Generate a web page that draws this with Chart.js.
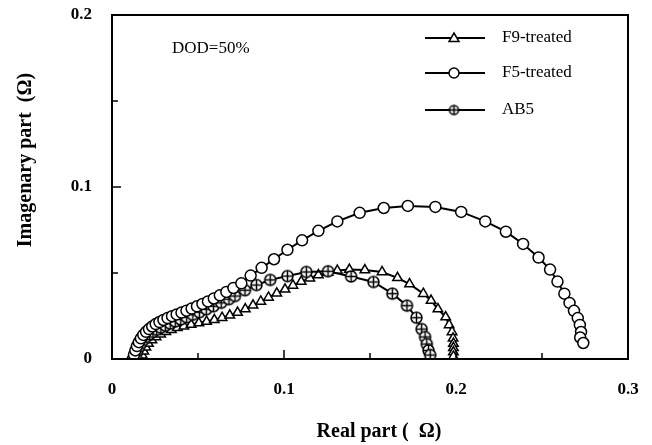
<!DOCTYPE html>
<html>
<head>
<meta charset="utf-8">
<script src="https://cdn.jsdelivr.net/npm/chart.js@4/dist/chart.umd.min.js"></script>
<style>
  html, body { margin: 0; padding: 0; background: #fff; }
  #wrap { width: 652px; height: 445px; }
</style>
</head>
<body>
<div id="wrap"><canvas id="nyquist"></canvas></div>
<script>
// Nyquist plot readings, DOD=50%
const seriesNames = ['F9-treated', 'F5-treated', 'AB5'];

const f9Real = [0.0170,0.0176,0.0185,0.0197,0.0212,0.0232,0.0256,0.0283,0.0313,0.0345,0.0380,0.0418,0.0460,0.0505,0.0550,0.0595,0.0640,0.0685,0.0730,0.0775,0.0820,0.0865,0.0910,0.0958,0.1006,0.1052,0.1100,0.1150,0.1200,0.1256,0.1310,0.1380,0.1470,0.1570,0.1660,0.1730,0.1810,0.1855,0.1895,0.1940,0.1960,0.1977,0.1983,0.1985,0.1985,0.1985,0.1985];
const f9Imag = [0.0000,0.0022,0.0045,0.0068,0.0090,0.0110,0.0128,0.0144,0.0158,0.0170,0.0181,0.0191,0.0200,0.0209,0.0218,0.0228,0.0240,0.0254,0.0270,0.0290,0.0312,0.0335,0.0358,0.0382,0.0405,0.0428,0.0450,0.0470,0.0488,0.0503,0.0514,0.0520,0.0517,0.0506,0.0472,0.0436,0.0380,0.0340,0.0290,0.0244,0.0198,0.0157,0.0120,0.0090,0.0065,0.0040,0.0015];

const f5Real = [0.0122,0.0128,0.0136,0.0145,0.0156,0.0168,0.0182,0.0198,0.0215,0.0234,0.0254,0.0276,0.0299,0.0323,0.0349,0.0376,0.0404,0.0433,0.0463,0.0494,0.0526,0.0558,0.0592,0.0627,0.0665,0.0706,0.0752,0.0806,0.0870,0.0942,0.1020,0.1105,0.1200,0.1310,0.1440,0.1580,0.1720,0.1880,0.2030,0.2170,0.2290,0.2390,0.2480,0.2547,0.2590,0.2630,0.2660,0.2686,0.2708,0.2720,0.2727,0.2722,0.2740];
const f5Imag = [0.0000,0.0025,0.0050,0.0075,0.0098,0.0120,0.0140,0.0158,0.0174,0.0189,0.0203,0.0215,0.0227,0.0238,0.0249,0.0259,0.0270,0.0281,0.0293,0.0306,0.0320,0.0335,0.0352,0.0370,0.0390,0.0413,0.0440,0.0485,0.0530,0.0580,0.0635,0.0690,0.0745,0.0800,0.0850,0.0878,0.0890,0.0884,0.0855,0.0800,0.0740,0.0669,0.0590,0.0520,0.0450,0.0380,0.0326,0.0280,0.0238,0.0198,0.0157,0.0125,0.0093];

const ab5Real = [0.0135,0.0140,0.0148,0.0158,0.0170,0.0184,0.0200,0.0218,0.0238,0.0260,0.0284,0.0310,0.0338,0.0368,0.0400,0.0434,0.0470,0.0508,0.0548,0.0590,0.0635,0.0680,0.0715,0.0773,0.0840,0.0920,0.1020,0.1130,0.1256,0.1390,0.1520,0.1630,0.1715,0.1770,0.1800,0.1820,0.1830,0.1840,0.1850];
const ab5Imag = [0.0000,0.0024,0.0048,0.0071,0.0092,0.0111,0.0128,0.0143,0.0157,0.0170,0.0182,0.0194,0.0206,0.0218,0.0230,0.0243,0.0257,0.0272,0.0289,0.0307,0.0327,0.0348,0.0366,0.0400,0.0430,0.0460,0.0482,0.0506,0.0510,0.0480,0.0448,0.0380,0.0310,0.0240,0.0174,0.0128,0.0087,0.0050,0.0023];

const xTicks = [0, 0.1, 0.2, 0.3];
const yTicks = [0, 0.1, 0.2];

const toPoints = (xs, ys) => xs.map((x, i) => ({ x: x, y: ys[i] }));

// circle with a plus inside, for AB5
function crossedCircle(r) {
    const size = 2 * Math.ceil(r) + 5;
    const c = document.createElement('canvas');
    c.width = size; c.height = size;
    const g = c.getContext('2d');
    const m = size / 2;
    g.fillStyle = '#fff';
    g.strokeStyle = '#000';
    g.lineWidth = 1.5;
    g.beginPath(); g.arc(m, m, r, 0, Math.PI * 2); g.fill(); g.stroke();
    g.beginPath();
    g.moveTo(m - r, m); g.lineTo(m + r, m);
    g.moveTo(m, m - r); g.lineTo(m, m + r);
    g.stroke();
    return c;
}

const abMarker = crossedCircle(5.5);
const abMarkerSmall = crossedCircle(4.5);

const serif = "'Liberation Serif', 'Times New Roman', serif";

// box, inward ticks, titles, legend, note
const frame = {
    id: 'frame',
    afterDatasetsDraw(chart) {
        const { ctx, chartArea: a, scales } = chart;
        const x = scales.x, y = scales.y;
        ctx.save();
        ctx.strokeStyle = '#000';
        ctx.lineWidth = 1.5;
        for (let i = 1; i < 6; i++) {
            const v = i * 0.05;
            const len = i % 2 === 0 ? 9 : 6;
            const px = x.getPixelForValue(v);
            ctx.beginPath(); ctx.moveTo(px, a.bottom); ctx.lineTo(px, a.bottom - len); ctx.stroke();
        }
        for (let i = 1; i < 4; i++) {
            const v = i * 0.05;
            const len = i % 2 === 0 ? 9 : 6;
            const py = y.getPixelForValue(v);
            ctx.beginPath(); ctx.moveTo(a.left, py); ctx.lineTo(a.left + len, py); ctx.stroke();
        }
        ctx.lineWidth = 2;
        ctx.strokeRect(a.left, a.top, a.right - a.left, a.bottom - a.top);

        ctx.fillStyle = '#000';
        ctx.font = '17px ' + serif;
        ctx.textBaseline = 'alphabetic';
        ctx.textAlign = 'left';
        ctx.fillText('DOD=50%', a.left + 60, a.top + 38);

        // legend
        const rows = [a.top + 23, a.top + 58, a.top + 95];
        const lx0 = 425, lx1 = 485, lm = 454;
        chart.data.datasets.forEach((ds, i) => {
            const ly = rows[i];
            ctx.strokeStyle = '#000';
            ctx.lineWidth = 2;
            ctx.beginPath(); ctx.moveTo(lx0, ly); ctx.lineTo(lx1, ly); ctx.stroke();
            ctx.lineWidth = 1.5;
            ctx.fillStyle = '#fff';
            if (ds.pointStyle === 'triangle') {
                ctx.beginPath();
                ctx.moveTo(lm, ly - 5); ctx.lineTo(lm + 5, ly + 3.5); ctx.lineTo(lm - 5, ly + 3.5);
                ctx.closePath(); ctx.fill(); ctx.stroke();
            } else if (ds.pointStyle === 'circle') {
                ctx.beginPath(); ctx.arc(lm, ly, 5, 0, Math.PI * 2); ctx.fill(); ctx.stroke();
            } else {
                ctx.drawImage(abMarkerSmall, lm - abMarkerSmall.width / 2, ly - abMarkerSmall.height / 2);
            }
            ctx.fillStyle = '#000';
            ctx.font = '17px ' + serif;
            ctx.textBaseline = 'middle';
            ctx.fillText(ds.label, 502, ly);
        });

        // axis titles
        ctx.font = 'bold 20px ' + serif;
        ctx.textAlign = 'center';
        ctx.textBaseline = 'middle';
        ctx.fillText('Real part (  \u03a9)', (a.left + a.right) / 2 + 9, 432);
        ctx.save();
        ctx.translate(26, a.top + 145);
        ctx.rotate(-Math.PI / 2);
        ctx.fillText('Imagenary part  (\u03a9)', 0, 0);
        ctx.restore();
        ctx.restore();
    }
};

const common = {
    borderColor: '#000',
    borderWidth: 2,
    pointBackgroundColor: '#fff',
    pointBorderColor: '#000',
    pointBorderWidth: 1.5,
    pointRadius: 5.5,
    showLine: true,
    tension: 0,
    fill: false
};

new Chart(document.getElementById('nyquist'), {
    type: 'scatter',
    data: {
        datasets: [
            Object.assign({ label: seriesNames[0], data: toPoints(f9Real, f9Imag), pointStyle: 'triangle', order: 3 }, common),
            Object.assign({ label: seriesNames[1], data: toPoints(f5Real, f5Imag), pointStyle: 'circle', order: 1 }, common),
            Object.assign({ label: seriesNames[2], data: toPoints(ab5Real, ab5Imag), pointStyle: abMarker, order: 2 }, common)
        ]
    },
    options: {
        responsive: true,
        maintainAspectRatio: false,
        animation: false,
        layout: { padding: { top: 15, right: 24, left: 0, bottom: 0 } },
        plugins: {
            legend: { display: false },
            tooltip: { enabled: false }
        },
        scales: {
            x: {
                type: 'linear',
                min: 0, max: 0.3,
                grid: { display: false },
                border: { display: false },
                afterFit(s) { s.height = 86; s.paddingLeft = 0; s.paddingRight = 0; },
                afterBuildTicks(s) { s.ticks = xTicks.map(v => ({ value: v })); },
                ticks: {
                    padding: 12,
                    color: '#000',
                    font: { family: serif, size: 17, weight: 'bold' },
                    callback: v => (v === 0 ? '0' : String(Math.round(v * 10) / 10))
                }
            },
            y: {
                type: 'linear',
                min: 0, max: 0.2,
                grid: { display: false },
                border: { display: false },
                afterFit(s) { s.width = 112; s.paddingTop = 0; s.paddingBottom = 0; },
                afterBuildTicks(s) { s.ticks = yTicks.map(v => ({ value: v })); },
                ticks: {
                    padding: 12,
                    color: '#000',
                    font: { family: serif, size: 17, weight: 'bold' },
                    callback: v => (v === 0 ? '0' : String(Math.round(v * 10) / 10))
                }
            }
        }
    },
    plugins: [frame]
});
</script>
</body>
</html>
